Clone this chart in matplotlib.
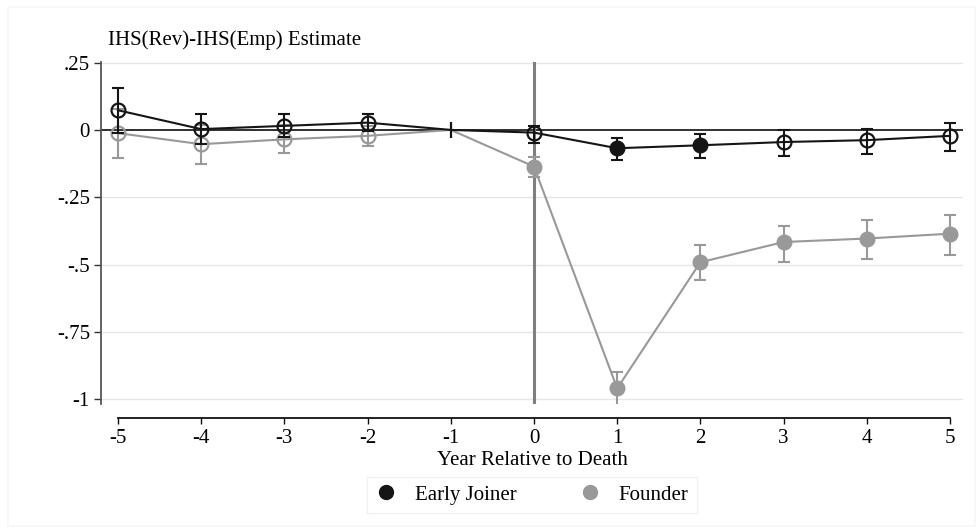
import matplotlib
matplotlib.use('Agg')
import matplotlib.pyplot as plt
import numpy as np
from matplotlib.lines import Line2D
from matplotlib.patches import Rectangle

# ---- data ----
years = [-5, -4, -3, -2, -1, 0, 1, 2, 3, 4, 5]
early_est = [0.073, 0.003, 0.015, 0.027, 0.0, -0.010, -0.068, -0.057, -0.045, -0.038, -0.022]
early_lo = [-0.011, -0.054, -0.028, -0.004, 0.0, -0.047, -0.113, -0.105, -0.097, -0.090, -0.078]
early_hi = [0.157, 0.060, 0.058, 0.058, 0.0, 0.015, -0.031, -0.016, 0.000, 0.005, 0.024]
early_style = ['hollow', 'hollow', 'hollow', 'hollow', 'ref', 'hollow', 'filled', 'filled', 'hollow', 'hollow', 'hollow']

founder_est = [-0.012, -0.053, -0.035, -0.022, 0.0, -0.136, -0.959, -0.491, -0.416, -0.403, -0.385]
founder_lo = [-0.103, -0.125, -0.087, -0.060, 0.0, -0.175, -1.026, -0.558, -0.490, -0.478, -0.465]
founder_hi = [0.079, 0.019, 0.017, 0.016, 0.0, -0.100, -0.898, -0.428, -0.357, -0.335, -0.316]
founder_style = ['hollow', 'hollow', 'hollow', 'hollow', 'none', 'filled', 'filled', 'filled', 'filled', 'filled', 'filled']

series_names = ['Early Joiner', 'Founder']
ytick_vals = [0.25, 0, -0.25, -0.5, -0.75, -1]
ytick_labels = ['.25', '0', '-.25', '-.5', '-.75', '-1']
xtick_vals = years
xtick_labels = ['-5', '-4', '-3', '-2', '-1', '0', '1', '2', '3', '4', '5']
title = 'IHS(Rev)-IHS(Emp) Estimate'
xlabel = 'Year Relative to Death'

plt.rcParams['font.family'] = ['Liberation Serif', 'DejaVu Serif']
FS = 15

W, H = 979, 531
fig = plt.figure(figsize=(W / 100, H / 100), dpi=100)
fig.patches.append(Rectangle((8 / W, 5 / H), (W - 12) / W, (H - 12) / H, transform=fig.transFigure,
                             fill=False, edgecolor='#f7f7f7', lw=1.2))
ax_l, ax_r, ax_t, ax_b = 101, 963, 62, 404
ax = fig.add_axes([ax_l / W, 1 - ax_b / H, (ax_r - ax_l) / W, (ax_b - ax_t) / H])

ax.set_xlim(-5.204, 5.156)
ax.set_ylim(-1.017, 0.252)

BLACK = '#151515'
GRAY = '#999999'

# grid
for v in ytick_vals:
    if v != 0:
        ax.axhline(v, color='#e6e6e6', lw=1.0, zorder=0)
ax.axhline(0, color='#202020', lw=1.3, zorder=1)
ax.axvline(0, color='#7f7f7f', lw=2.2, zorder=1)


def draw(est, lo, hi, style, color, z):
    x = np.array(years, dtype=float)
    est = np.array(est); lo = np.array(lo); hi = np.array(hi)
    ax.plot(x, est, color=color, lw=1.5, zorder=z)
    mask = np.array([s != 'ref' and s != 'none' for s in style])
    ax.errorbar(x[mask], est[mask], yerr=[est[mask] - lo[mask], hi[mask] - est[mask]],
                fmt='none', ecolor=color, elinewidth=1.5, capsize=4, capthick=1.5, zorder=z)
    for xi, yi, s in zip(x, est, style):
        if s == 'hollow':
            ax.plot(xi, yi, marker='o', ms=10, mfc='none', mec=color, mew=1.6, zorder=z + 0.5)
        elif s == 'filled':
            ax.plot(xi, yi, marker='o', ms=10.5, mfc=color, mec=color, mew=1.0, zorder=z + 0.5)
        elif s == 'ref':
            ax.plot(xi, yi, marker='|', ms=12, mec=color, mew=1.6, zorder=z + 0.5)


draw(founder_est, founder_lo, founder_hi, founder_style, GRAY, 3)
draw(early_est, early_lo, early_hi, early_style, BLACK, 4)

for s in ['top', 'right']:
    ax.spines[s].set_visible(False)
ax.spines['left'].set_color('#555555')
ax.spines['left'].set_linewidth(1.3)
ax.spines['bottom'].set_position(('outward', 10))
ax.spines['bottom'].set_bounds(-5, 5)
ax.spines['bottom'].set_color('#111111')
ax.spines['bottom'].set_linewidth(1.3)

ax.set_yticks(ytick_vals)
ax.set_yticklabels(ytick_labels)
ax.set_xticks(xtick_vals)
ax.set_xticklabels(xtick_labels)
ax.tick_params(axis='y', length=5, width=1.0, color='#333333', labelsize=FS, pad=3)
ax.tick_params(axis='x', length=4, width=1.0, color='#111111', labelsize=FS, pad=4)

ax.set_xlabel(xlabel, fontsize=FS, labelpad=2)
fig.text(108 / W, 1 - 40 / H, title, fontsize=FS, va='center', ha='left')

handles = [Line2D([], [], ls='none', marker='o', ms=10, color=BLACK),
           Line2D([], [], ls='none', marker='o', ms=10, color=GRAY)]
leg = fig.legend(handles, series_names, loc='center', bbox_to_anchor=(532 / W, 1 - 495 / H),
                 ncol=2, fontsize=FS, frameon=True, fancybox=False, edgecolor='#eeeeee',
                 handletextpad=0.9, columnspacing=3.0, handlelength=1.0, borderpad=0.4,
                 borderaxespad=0)
leg.get_frame().set_linewidth(1.0)

fig.savefig('out.png', dpi=100)
